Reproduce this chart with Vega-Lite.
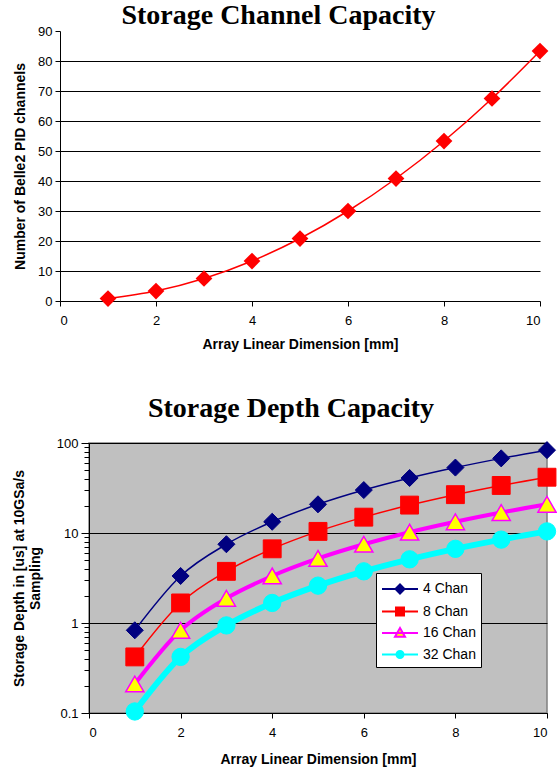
{
  "$schema": "https://vega.github.io/schema/vega-lite/v6.json",
  "background": "white",
  "padding": {"left": 11, "top": 2, "right": 0, "bottom": 0},
  "datasets": {
    "channel": [
      {"dim": 1, "channels": 0.83},
      {"dim": 2, "channels": 3.33},
      {"dim": 3, "channels": 7.5},
      {"dim": 4, "channels": 13.33},
      {"dim": 5, "channels": 20.83},
      {"dim": 6, "channels": 30},
      {"dim": 7, "channels": 40.83},
      {"dim": 8, "channels": 53.33},
      {"dim": 9, "channels": 67.5},
      {"dim": 10, "channels": 83.33}
    ],
    "depth": [
      {"dim": 1, "series": "4 Chan", "depth": 0.83},
      {"dim": 2, "series": "4 Chan", "depth": 3.33},
      {"dim": 3, "series": "4 Chan", "depth": 7.5},
      {"dim": 4, "series": "4 Chan", "depth": 13.33},
      {"dim": 5, "series": "4 Chan", "depth": 20.83},
      {"dim": 6, "series": "4 Chan", "depth": 30},
      {"dim": 7, "series": "4 Chan", "depth": 40.83},
      {"dim": 8, "series": "4 Chan", "depth": 53.33},
      {"dim": 9, "series": "4 Chan", "depth": 67.5},
      {"dim": 10, "series": "4 Chan", "depth": 83.33},
      {"dim": 1, "series": "8 Chan", "depth": 0.42},
      {"dim": 2, "series": "8 Chan", "depth": 1.67},
      {"dim": 3, "series": "8 Chan", "depth": 3.75},
      {"dim": 4, "series": "8 Chan", "depth": 6.67},
      {"dim": 5, "series": "8 Chan", "depth": 10.42},
      {"dim": 6, "series": "8 Chan", "depth": 15},
      {"dim": 7, "series": "8 Chan", "depth": 20.42},
      {"dim": 8, "series": "8 Chan", "depth": 26.67},
      {"dim": 9, "series": "8 Chan", "depth": 33.75},
      {"dim": 10, "series": "8 Chan", "depth": 41.67},
      {"dim": 1, "series": "16 Chan", "depth": 0.21},
      {"dim": 2, "series": "16 Chan", "depth": 0.83},
      {"dim": 3, "series": "16 Chan", "depth": 1.88},
      {"dim": 4, "series": "16 Chan", "depth": 3.33},
      {"dim": 5, "series": "16 Chan", "depth": 5.21},
      {"dim": 6, "series": "16 Chan", "depth": 7.5},
      {"dim": 7, "series": "16 Chan", "depth": 10.21},
      {"dim": 8, "series": "16 Chan", "depth": 13.33},
      {"dim": 9, "series": "16 Chan", "depth": 16.88},
      {"dim": 10, "series": "16 Chan", "depth": 20.83},
      {"dim": 1, "series": "32 Chan", "depth": 0.104},
      {"dim": 2, "series": "32 Chan", "depth": 0.42},
      {"dim": 3, "series": "32 Chan", "depth": 0.94},
      {"dim": 4, "series": "32 Chan", "depth": 1.67},
      {"dim": 5, "series": "32 Chan", "depth": 2.6},
      {"dim": 6, "series": "32 Chan", "depth": 3.75},
      {"dim": 7, "series": "32 Chan", "depth": 5.1},
      {"dim": 8, "series": "32 Chan", "depth": 6.67},
      {"dim": 9, "series": "32 Chan", "depth": 8.44},
      {"dim": 10, "series": "32 Chan", "depth": 10.42}
    ]
  },
  "spacing": 43,
  "resolve": {"scale": {"fill": "independent", "stroke": "independent", "shape": "independent"}},
  "vconcat": [
    {
      "title": {"text": "Storage Channel Capacity", "anchor": "middle", "offset": -5, "dx": -36},
      "width": 451,
      "height": 270,
      "data": {"name": "channel"},
      "view": {"stroke": null},
      "encoding": {
        "x": {"field": "dim", "type": "quantitative", "scale": {"domain": [0, 10], "nice": false, "range": [-29, 451]},
              "axis": {"title": "Array Linear Dimension [mm]", "values": [0, 2, 4, 6, 8, 10], "tickSize": 5, "labelPadding": 8, "titlePadding": 10}},
        "y": {"field": "channels", "type": "quantitative", "scale": {"domain": [0, 90], "nice": false},
              "axis": {"title": "Number of Belle2 PID channels", "values": [0, 10, 20, 30, 40, 50, 60, 70, 80, 90], "tickSize": 5, "grid": true, "offset": 29,
                       "gridOpacity": {"condition": {"test": "datum.value > 0 && datum.value < 90", "value": 1}, "value": 0}, "titlePadding": 10}}
      },
      "layer": [
        {"mark": {"type": "line", "color": "#FF0000", "strokeWidth": 1.5, "interpolate": "monotone"}},
        {"mark": {"type": "point", "shape": "diamond", "filled": true, "color": "#FF0000", "size": 280, "opacity": 1}}
      ]
    },
    {
      "title": {"text": "Storage Depth Capacity", "anchor": "middle", "offset": 14, "dx": -27},
      "width": 458,
      "height": 270,
      "data": {"name": "depth"},
      "view": {"fill": "#C0C0C0", "stroke": "#808080", "strokeWidth": 1.5},
      "encoding": {
        "x": {"field": "dim", "type": "quantitative", "scale": {"domain": [0, 10], "nice": false},
              "axis": {"title": "Array Linear Dimension [mm]", "values": [0, 2, 4, 6, 8, 10], "tickSize": 5, "labelPadding": 8, "titlePadding": 13}},
        "y": {"field": "depth", "type": "quantitative", "scale": {"type": "log", "domain": [0.1, 100], "nice": false},
              "axis": {"title": ["Storage Depth in [us] at 10GSa/s", "Sampling"], "grid": true, "labelOverlap": false,
                       "labelExpr": "abs(log(datum.value)/LN10 - round(log(datum.value)/LN10)) < 0.000001 ? '' + datum.value : ''",
                       "gridOpacity": {"condition": {"test": "abs(log(datum.value)/LN10 - round(log(datum.value)/LN10)) < 0.000001", "value": 1}, "value": 0},
                       "tickSize": {"condition": {"test": "abs(log(datum.value)/LN10 - round(log(datum.value)/LN10)) < 0.000001", "value": 8}, "value": 5},
                       "titlePadding": 14}}
      },
      "layer": [
        {"transform": [{"filter": "datum.series == '4 Chan'"}],
         "mark": {"type": "line", "interpolate": "monotone", "color": "#000080", "strokeWidth": 1.5}},
        {"transform": [{"filter": "datum.series == '8 Chan'"}],
         "mark": {"type": "line", "interpolate": "monotone", "color": "#FF0000", "strokeWidth": 1.5}},
        {"transform": [{"filter": "datum.series == '16 Chan'"}],
         "mark": {"type": "line", "interpolate": "monotone", "color": "#FF00FF", "strokeWidth": 4}},
        {"transform": [{"filter": "datum.series == '32 Chan'"}],
         "mark": {"type": "line", "interpolate": "monotone", "color": "#00FFFF", "strokeWidth": 6}},
        {"transform": [{"filter": "datum.series == '4 Chan'"}],
         "mark": {"type": "point", "shape": "diamond", "filled": true, "fill": "#000080", "stroke": "#000080", "strokeWidth": 1, "size": 290, "opacity": 1}},
        {"transform": [{"filter": "datum.series == '8 Chan'"}],
         "mark": {"type": "point", "shape": "square", "filled": true, "fill": "#FF0000", "stroke": "#FF0000", "strokeWidth": 1, "size": 320, "opacity": 1}},
        {"transform": [{"filter": "datum.series == '16 Chan'"}],
         "mark": {"type": "point", "shape": "triangle-up", "filled": true, "fill": "#FFFF00", "stroke": "#FF00FF", "strokeWidth": 1.5, "size": 330, "opacity": 1}},
        {"transform": [{"filter": "datum.series == '32 Chan'"}],
         "mark": {"type": "point", "shape": "circle", "filled": true, "fill": "#00FFFF", "stroke": "#00FFFF", "strokeWidth": 1, "size": 300, "opacity": 1}},
        {
          "mark": {"type": "point", "filled": true, "opacity": 1, "strokeWidth": 2, "size": 0},
          "encoding": {
            "stroke": {"field": "series", "type": "nominal",
                       "scale": {"domain": ["4 Chan", "8 Chan", "16 Chan", "32 Chan"], "range": ["#000080", "#FF0000", "#FF00FF", "#00FFFF"]}},
            "shape": {"field": "series", "type": "nominal",
                      "scale": {"domain": ["4 Chan", "8 Chan", "16 Chan", "32 Chan"],
                                "range": ["M-1,0H2.6M0.35,0L0.8,-0.45L1.25,0L0.8,0.45Z",
                                          "M-1,0H2.6M0.4,-0.4H1.2V0.4H0.4Z",
                                          "M-1,0H2.6M0.8,-0.5L1.3,0.38H0.3Z",
                                          "M-1,0H2.6M1.15,0A0.35,0.35 0 1 1 0.45,0A0.35,0.35 0 1 1 1.15,0Z"]}},
            "fill": {"field": "series", "type": "nominal",
                     "scale": {"domain": ["4 Chan", "8 Chan", "16 Chan", "32 Chan"], "range": ["#000080", "#FF0000", "#FFFF00", "#00FFFF"]},
                     "legend": {
                       "title": null, "orient": "none", "legendX": 287, "legendY": 130,
                       "fillColor": "white", "strokeColor": "black", "padding": 5,
                       "labelFont": "Liberation Sans", "labelFontSize": 14, "labelColor": "black",
                       "symbolSize": 400, "symbolStrokeWidth": 2, "labelOffset": 20, "rowPadding": 2.5
                     }}
          }
        }
      ]
    }
  ],
  "config": {
    "font": "Liberation Sans",
    "title": {"font": "Liberation Serif", "fontSize": 28, "fontWeight": "bold", "color": "black"},
    "axis": {"labelFont": "Liberation Sans", "labelFontSize": 13, "labelColor": "black",
             "titleFont": "Liberation Sans", "titleFontSize": 14, "titleFontWeight": "bold", "titleColor": "black",
             "domainColor": "black", "tickColor": "black", "gridColor": "black", "grid": false, "labelPadding": 3}
  }
}
